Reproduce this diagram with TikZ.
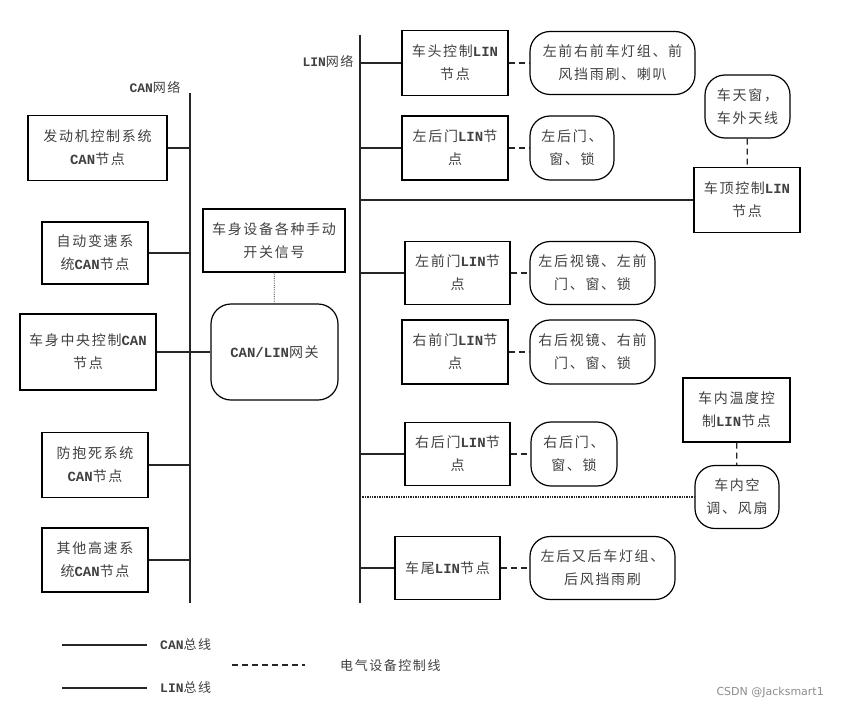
\documentclass[tikz,border=0pt]{standalone}
\usepackage{fontspec}
\setmainfont{Noto Sans CJK SC}[LetterSpace=12]
\setmonofont{Liberation Mono}
\newfontfamily\wmfont{DejaVu Sans}
\newcommand{\lt}[1]{{\ttfamily\bfseries #1}}
\usetikzlibrary{positioning}

\begin{document}
\begin{tikzpicture}[x=1pt,y=-1pt,
    nb/.style={rectangle,draw,line width=1.2pt,align=center,inner sep=0pt,
               text=black!75,font=\fontsize{14}{23}\selectfont},
    db/.style={nb,rounded corners=20pt},
    lb/.style={inner sep=0pt,text=black!75,font=\fontsize{13}{15}\selectfont},
    bus/.style={line width=1.2pt,black!85}]
    \useasboundingbox (0,0) rectangle (842,709);

    % buses
    \coordinate (can1) at (190,93);  \coordinate (can2) at (190,603);
    \coordinate (lin1) at (360,35);  \coordinate (lin2) at (360,603);
    \draw[bus] (can1) -- (can2);
    \draw[bus] (lin1) -- (lin2);
    \draw (155,87) node[lb](cannet){\lt{CAN}网络};
    \draw (328,61) node[lb](linnet){\lt{LIN}网络};

    % CAN side
    \draw (97.5,148)   node[nb,minimum width=139pt,minimum height=65pt](eng){发动机控制系统\\\lt{CAN}节点};
    \draw (95,253)     node[nb,minimum width=106pt,minimum height=62pt](tcu){自动变速系\\统\lt{CAN}节点};
    \draw (88,352)     node[nb,minimum width=136pt,minimum height=76pt](bcm){车身中央控制\lt{CAN}\\节点};
    \draw (95,465)     node[nb,minimum width=106pt,minimum height=65pt](abs){防抱死系统\\\lt{CAN}节点};
    \draw (95,560)     node[nb,minimum width=106pt,minimum height=64pt](oth){其他高速系\\统\lt{CAN}节点};
    \draw (274,240.5)  node[nb,minimum width=142pt,minimum height=63pt](sw){车身设备各种手动\\开关信号};
    \draw (274.5,352)  node[db,minimum width=127pt,minimum height=96pt](gw){\lt{CAN/LIN}网关};

    % LIN side
    \draw (455,63)     node[nb,minimum width=106pt,minimum height=65pt](head){车头控制\lt{LIN}\\节点};
    \draw (612.5,63)   node[db,minimum width=165pt,minimum height=63pt](headd){左前右前车灯组、前\\风挡雨刷、喇叭};
    \draw (455,148)    node[nb,minimum width=106pt,minimum height=64pt](lrd){左后门\lt{LIN}节\\点};
    \draw (572,148)    node[db,minimum width=84pt,minimum height=64pt](lrdd){左后门、\\窗、锁};
    \draw (747,200)    node[nb,minimum width=106pt,minimum height=65pt](roof){车顶控制\lt{LIN}\\节点};
    \draw (747.5,106.5) node[db,minimum width=85pt,minimum height=63pt](roofd){车天窗，\\车外天线};
    \draw (457.5,273)  node[nb,minimum width=105pt,minimum height=63pt](lfd){左前门\lt{LIN}节\\点};
    \draw (592.5,273)  node[db,minimum width=125pt,minimum height=63pt](lfdd){左后视镜、左前\\门、窗、锁};
    \draw (455,352)    node[nb,minimum width=106pt,minimum height=64pt](rfd){右前门\lt{LIN}节\\点};
    \draw (592.5,352)  node[db,minimum width=125pt,minimum height=64pt](rfdd){右后视镜、右前\\门、窗、锁};
    \draw (457.5,454)  node[nb,minimum width=105pt,minimum height=63pt](rrd){右后门\lt{LIN}节\\点};
    \draw (574,454)    node[db,minimum width=86pt,minimum height=64pt](rrdd){右后门、\\窗、锁};
    \draw (736.5,410)  node[nb,minimum width=107pt,minimum height=64pt](clim){车内温度控\\制\lt{LIN}节点};
    \draw (737,497)    node[db,minimum width=84pt,minimum height=63pt](ac){车内空\\调、风扇};
    \draw (447.5,568)  node[nb,minimum width=105pt,minimum height=63pt](tail){车尾\lt{LIN}节点};
    \draw (602.5,568)  node[db,minimum width=145pt,minimum height=63pt](taild){左后又后车灯组、\\后风挡雨刷};

    % CAN links
    \begin{scope}[line width=2pt, black!85]
        \path (eng) edge (eng -| can1);
        \path (tcu) edge[line width=1.4pt] (tcu -| can1);
        \path (bcm) edge (gw);
        \path (abs) edge[line width=1.4pt] (abs -| can1);
        \path (oth) edge (oth -| can1);
    \end{scope}

    % LIN links
    \begin{scope}[line width=1.4pt, black!85]
        \path (head -| lin1) edge (head);
        \path (lrd -| lin1)  edge (lrd);
        \path (roof -| lin1) edge (roof);
        \path (lfd -| lin1)  edge (lfd);
        \path (rrd -| lin1)  edge (rrd);
        \path (tail -| lin1) edge (tail);
        \path (ac -| lin1)   edge[densely dotted] (ac);
    \end{scope}

    % control lines
    \begin{scope}[line width=1.3pt, black!85, dash pattern=on 6pt off 4pt]
        \path (head) edge (headd);
        \path (lrd)  edge (lrdd);
        \path (lfd)  edge (lfdd);
        \path (rfd)  edge (rfdd);
        \path (rrd)  edge (rrdd);
        \path (tail) edge (taild);
        \path (roofd) edge (roof);
        \path (clim) edge (ac);
        \path (sw)   edge[densely dotted,line width=0.8pt] (gw);
    \end{scope}

    % legend
    \coordinate (lga1) at (62,645);  \coordinate (lga2) at (147,645);
    \coordinate (lgb1) at (232,665); \coordinate (lgb2) at (305,665);
    \coordinate (lgc1) at (62,688);  \coordinate (lgc2) at (147,688);
    \draw[line width=2pt,black!85] (lga1) -- (lga2);
    \draw[line width=1.3pt,black!85,dash pattern=on 6pt off 4pt] (lgb1) -- (lgb2);
    \draw[line width=1.6pt,black!85] (lgc1) -- (lgc2);
    \draw (160,645) node[lb,anchor=west](lgcan){\lt{CAN}总线};
    \draw (340,666) node[lb,anchor=west](lgctl){电气设备控制线};
    \draw (160,688) node[lb,anchor=west](lglin){\lt{LIN}总线};
    \draw (824,692) node[anchor=east,inner sep=0pt,text=black!45,font=\wmfont\fontsize{11}{13}\selectfont](wm){CSDN @Jacksmart1};
\end{tikzpicture}
\end{document}
